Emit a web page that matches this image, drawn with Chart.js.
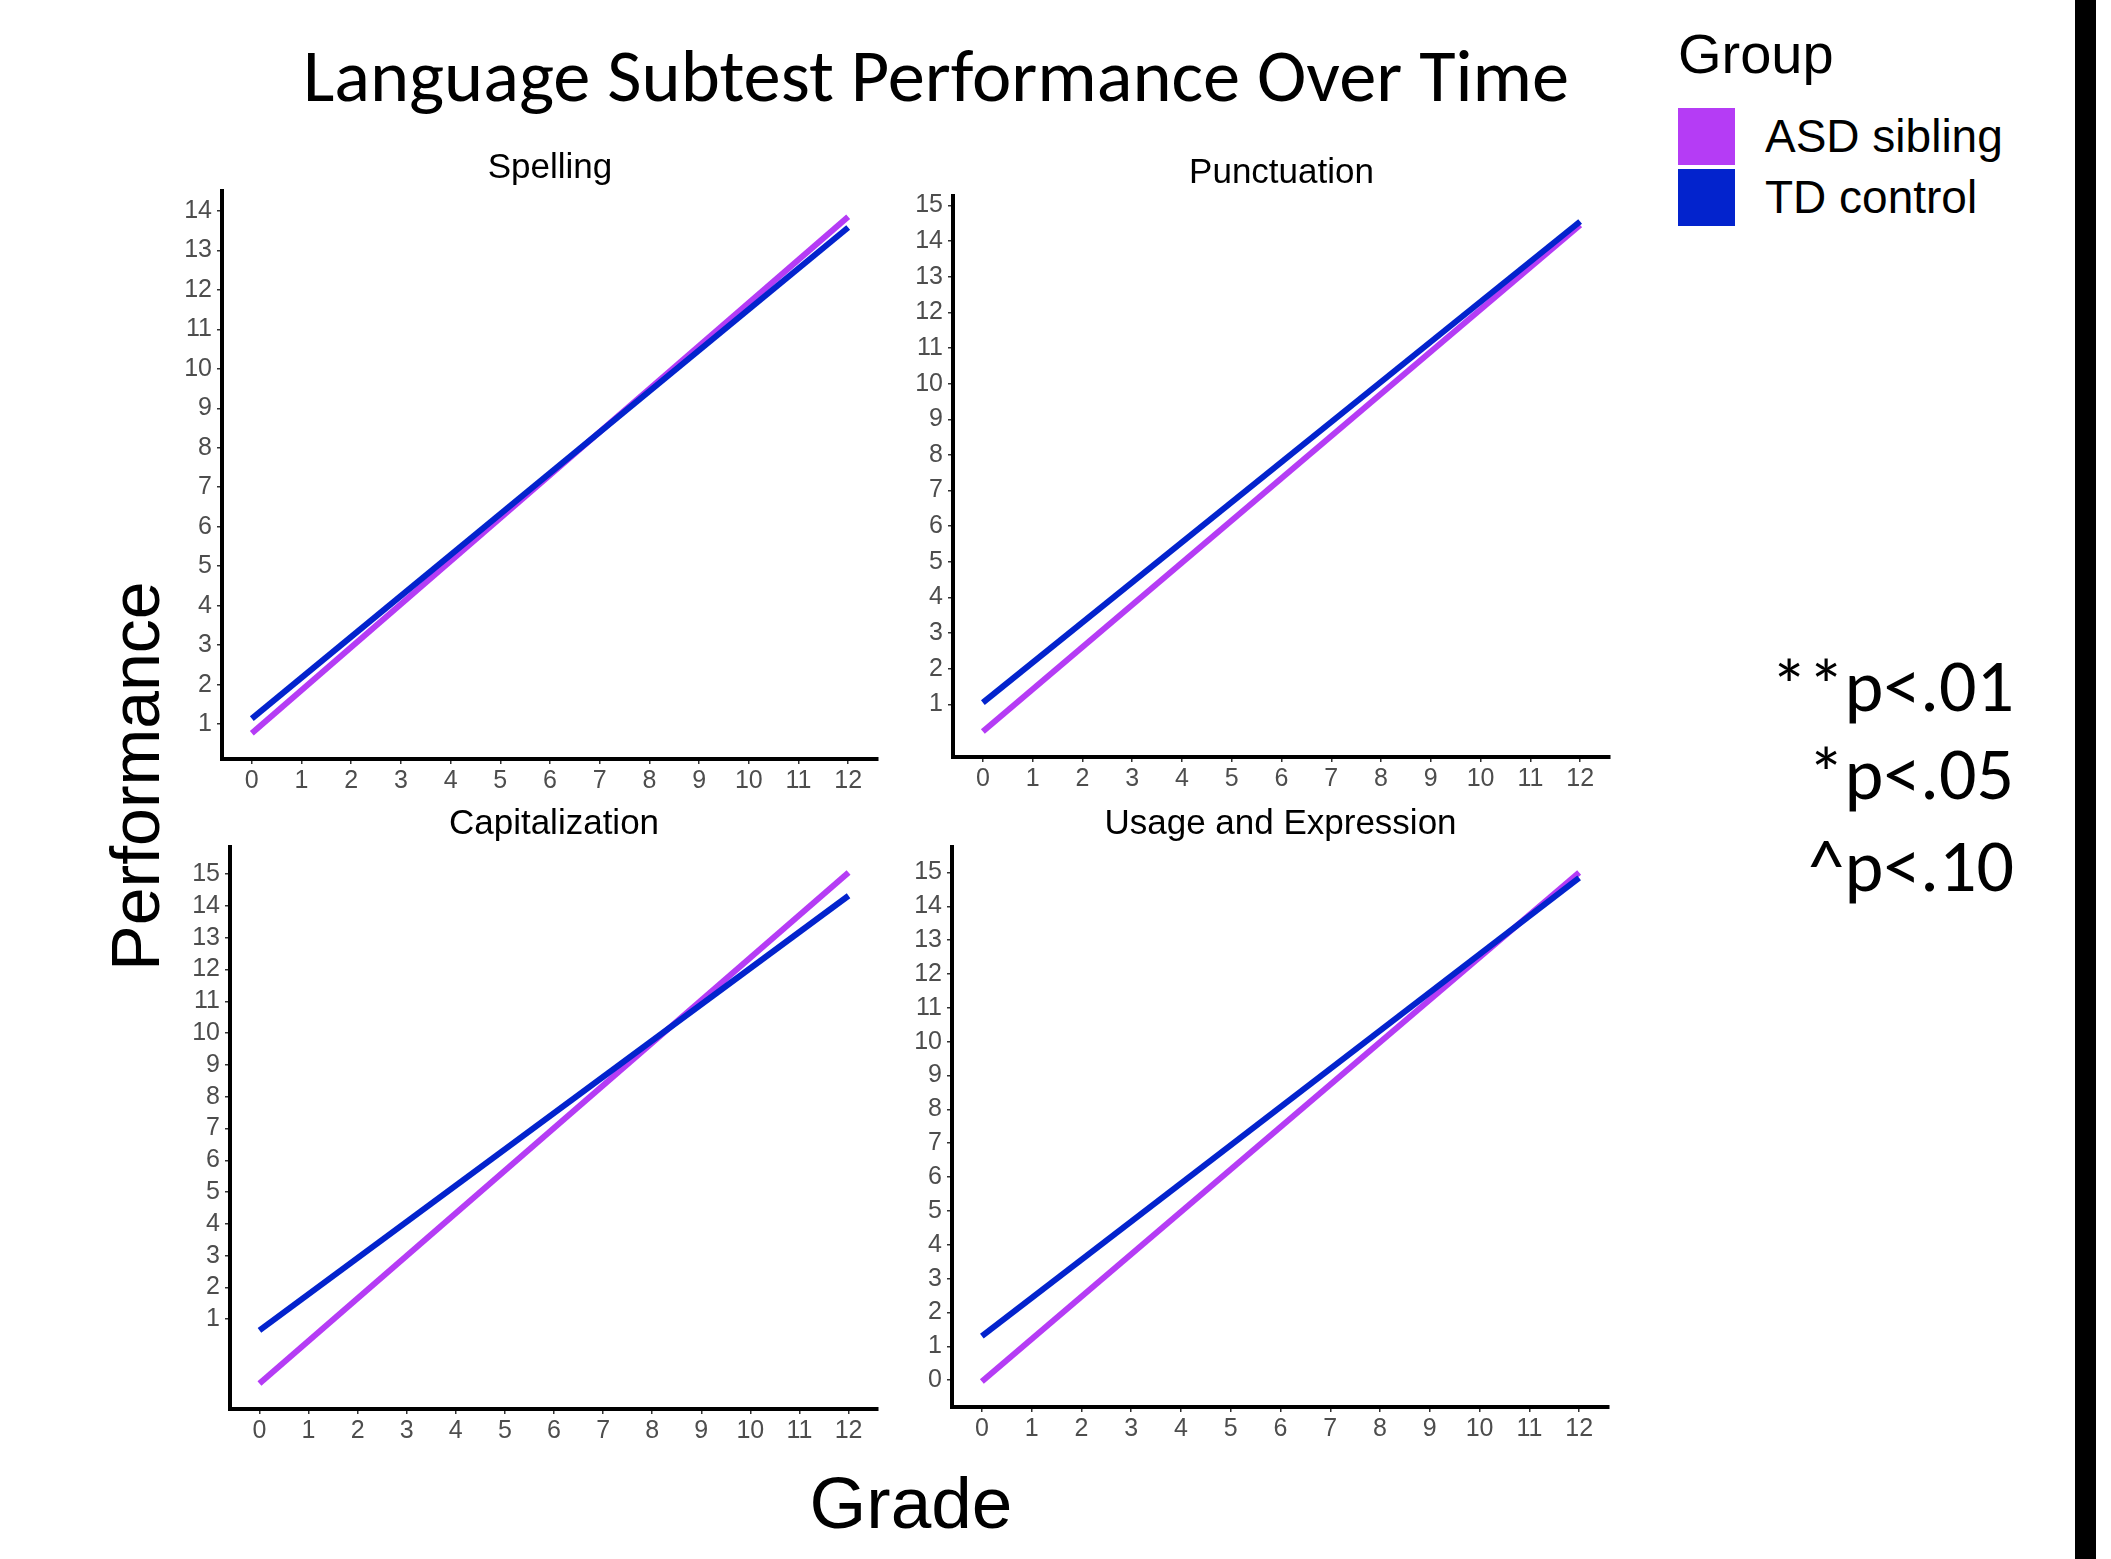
<!DOCTYPE html>
<html>
<head>
<meta charset="utf-8">
<title>Language Subtest Performance Over Time</title>
<script src="https://cdn.jsdelivr.net/npm/chart.js@4.4.1/dist/chart.umd.min.js"></script>
<style>
  html, body { margin: 0; padding: 0; background: #fff; }
  body { width: 2111px; height: 1559px; position: relative; overflow: hidden; }
  .txt { position: absolute; white-space: nowrap; line-height: 1; margin: 0; }
  .sans { font-family: "Liberation Sans", Arial, sans-serif; color: #000; }
  .slide { font-family: Carlito, Lato, "Open Sans", sans-serif; color: #000; }
  canvas { position: absolute; }
  .key { position: absolute; width: 57px; height: 57px; }
</style>
</head>
<body>

<div class="txt slide" id="mainTitle" style="font-size:74.5px; left:936px; top:39px; transform:translateX(-50%);">Language Subtest Performance Over Time</div>

<div class="txt sans" id="yTitle" style="font-size:68px; left:135px; top:776px; transform:translate(-50%,-50%) rotate(-90deg);">Performance</div>
<div class="txt sans" id="xTitle" style="font-size:73px; left:911px; top:1466px; transform:translateX(-50%);">Grade</div>

<div id="legend"></div>

<div id="notes"></div>

<div style="position:absolute; left:2075px; top:0; width:21px; height:1559px; background:#000;"></div>

<canvas id="c0"></canvas>
<canvas id="c1"></canvas>
<canvas id="c2"></canvas>
<canvas id="c3"></canvas>

<script>
// ---- data ----
const grades = [0, 12];
const gradeTicks = [0, 1, 2, 3, 4, 5, 6, 7, 8, 9, 10, 11, 12];
const groups = ["ASD sibling", "TD control"];
const groupColors = ["#B53CF5", "#0323CD"];

const subtests = ["Spelling", "Punctuation", "Capitalization", "Usage and Expression"];

const spellingASD = [0.77, 13.85];
const spellingTD = [1.14, 13.58];
const punctuationASD = [0.24, 14.45];
const punctuationTD = [1.05, 14.55];
const capitalizationASD = [-1.02, 15.05];
const capitalizationTD = [0.65, 14.32];
const usageASD = [-0.04, 15.0];
const usageTD = [1.30, 14.84];

const spellingTicks = [1, 2, 3, 4, 5, 6, 7, 8, 9, 10, 11, 12, 13, 14];
const punctuationTicks = [1, 2, 3, 4, 5, 6, 7, 8, 9, 10, 11, 12, 13, 14, 15];
const capitalizationTicks = [1, 2, 3, 4, 5, 6, 7, 8, 9, 10, 11, 12, 13, 14, 15];
const usageTicks = [0, 1, 2, 3, 4, 5, 6, 7, 8, 9, 10, 11, 12, 13, 14, 15];

const significanceNotes = ["**p<.01", "*p<.05", "^p<.10"];

// ---- layout (panel plotting areas, page pixels) ----
const frames = [
  { left: 222, right: 878, top: 191, bottom: 759 },
  { left: 953, right: 1610, top: 196, bottom: 757 },
  { left: 230, right: 878, top: 847, bottom: 1409 },
  { left: 952, right: 1609, top: 847, bottom: 1407 }
];

// ---- legend ----
(function buildLegend() {
  const box = document.getElementById("legend");
  const head = document.createElement("div");
  head.className = "txt sans";
  head.style.cssText = "font-size:56px; left:1678px; top:26px;";
  head.textContent = "Group";
  box.appendChild(head);
  groups.forEach((g, i) => {
    const key = document.createElement("div");
    key.className = "key";
    key.style.left = "1678px";
    key.style.top = (108 + i * 61) + "px";
    key.style.background = groupColors[i];
    box.appendChild(key);
    const lab = document.createElement("div");
    lab.className = "txt sans";
    lab.style.cssText = "font-size:46px; left:1765px;";
    lab.style.top = (113 + i * 61) + "px";
    lab.textContent = g;
    box.appendChild(lab);
  });
})();

// ---- significance notes ----
(function buildNotes() {
  const box = document.getElementById("notes");
  const baselines = [715, 803, 895];
  const size = 74;
  significanceNotes.forEach((t, i) => {
    const d = document.createElement("div");
    d.className = "txt slide";
    d.style.cssText = "font-size:" + size + "px; right:97px; text-align:right;";
    d.style.top = (baselines[i] - 0.887 * size) + "px";
    d.textContent = t;
    box.appendChild(d);
  });
})();

// ---- panel title drawn centred over each plotting area ----
const panelTitlePlugin = {
  id: "panelTitle",
  afterDraw(chart, args, opts) {
    const { ctx, chartArea } = chart;
    ctx.save();
    ctx.font = '35px "Liberation Sans", Arial, sans-serif';
    ctx.fillStyle = "#000";
    ctx.textAlign = "center";
    ctx.textBaseline = "alphabetic";
    ctx.fillText(opts.text, (chartArea.left + chartArea.right) / 2, chartArea.top - 13);
    ctx.restore();
  }
};

function makePanel(id, frame, title, asd, td, yTicks) {
  const PAD_L = 80, PAD_T = 70, PAD_R = 30, PAD_B = 60;
  const cv = document.getElementById(id);
  const w = frame.right - frame.left + PAD_L + PAD_R;
  const h = frame.bottom - frame.top + PAD_T + PAD_B;
  cv.style.left = (frame.left - PAD_L) + "px";
  cv.style.top = (frame.top - PAD_T) + "px";
  cv.width = w; cv.height = h;
  cv.style.width = w + "px"; cv.style.height = h + "px";

  // ggplot-style 5% expansion around the data
  const vals = asd.concat(td);
  const lo = Math.min(...vals), hi = Math.max(...vals), span = hi - lo;
  const xlo = Math.min(...grades), xhi = Math.max(...grades), xspan = xhi - xlo;

  const tickFont = { family: '"Liberation Sans", Arial, sans-serif', size: 25 };
  const tickGrid = { display: true, drawOnChartArea: false, drawTicks: true, tickLength: 5, color: "#333", lineWidth: 1.5 };
  const axisBorder = { display: true, color: "#000", width: 4 };

  new Chart(cv, {
    type: "line",
    data: {
      datasets: [
        { label: groups[0], data: grades.map((g, i) => ({ x: g, y: asd[i] })), borderColor: groupColors[0],
          backgroundColor: groupColors[0], borderWidth: 6, pointRadius: 0, tension: 0, fill: false, order: 1 },
        { label: groups[1], data: grades.map((g, i) => ({ x: g, y: td[i] })), borderColor: groupColors[1],
          backgroundColor: groupColors[1], borderWidth: 6, pointRadius: 0, tension: 0, fill: false, order: 0 }
      ]
    },
    options: {
      responsive: false,
      animation: false,
      devicePixelRatio: 1,
      events: [],
      layout: { padding: { top: PAD_T, right: PAD_R, left: 0, bottom: 0 } },
      plugins: { legend: { display: false }, tooltip: { enabled: false }, panelTitle: { text: title } },
      scales: {
        x: {
          type: "linear",
          min: xlo - 0.05 * xspan,
          max: xhi + 0.05 * xspan,
          afterBuildTicks: s => { s.ticks = gradeTicks.map(v => ({ value: v })); },
          afterFit: s => { s.height = PAD_B; },
          grid: tickGrid,
          border: axisBorder,
          ticks: { color: "#4D4D4D", font: tickFont, padding: 2, maxRotation: 0, minRotation: 0, autoSkip: false }
        },
        y: {
          type: "linear",
          min: lo - 0.05 * span,
          max: hi + 0.05 * span,
          afterBuildTicks: s => { s.ticks = yTicks.map(v => ({ value: v })); },
          afterFit: s => { s.width = PAD_L; },
          grid: tickGrid,
          border: axisBorder,
          ticks: { color: "#4D4D4D", font: tickFont, padding: 5, autoSkip: false }
        }
      }
    },
    plugins: [panelTitlePlugin]
  });
}

makePanel("c0", frames[0], subtests[0], spellingASD, spellingTD, spellingTicks);
makePanel("c1", frames[1], subtests[1], punctuationASD, punctuationTD, punctuationTicks);
makePanel("c2", frames[2], subtests[2], capitalizationASD, capitalizationTD, capitalizationTicks);
makePanel("c3", frames[3], subtests[3], usageASD, usageTD, usageTicks);
</script>
</body>
</html>
